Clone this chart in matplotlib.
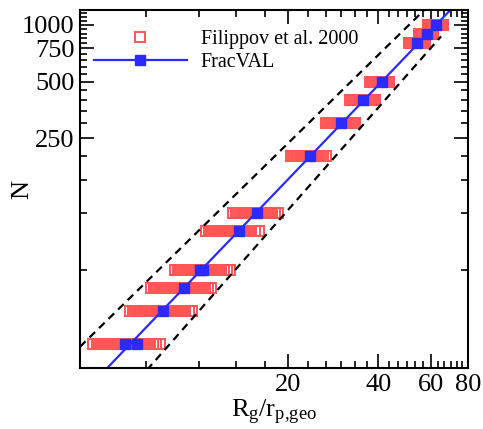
import numpy as np
import matplotlib
matplotlib.use("Agg")
import matplotlib.pyplot as plt
from matplotlib import ticker
from matplotlib.lines import Line2D

plt.rcParams['font.family'] = ['Liberation Serif', 'DejaVu Serif']
plt.rcParams['mathtext.fontset'] = 'custom'
plt.rcParams['mathtext.rm'] = 'Liberation Serif'
plt.rcParams['mathtext.it'] = 'Liberation Serif:italic'

# Filippov et al. 2000 : Rg/rp values for each N
fil_N = [20, 30, 40, 50, 80, 100, 200, 300, 400, 500, 800, 900, 1000]
fil_rg = [
    [4.43, 4.55, 4.64, 4.72, 4.79, 4.85, 4.91, 4.98, 5.04, 5.10, 5.18, 5.25,
     5.32, 5.40, 5.47, 5.55, 5.62, 5.70, 5.77, 5.85, 5.92, 6.00, 6.08, 6.15,
     6.22, 6.30, 6.39, 6.48, 6.58, 6.70, 6.80, 6.88, 7.05, 7.22, 7.41],
    [5.88, 6.02, 6.12, 6.20, 6.29, 6.38, 6.46, 6.55, 6.63, 6.72, 6.81, 6.90,
     6.99, 7.08, 7.16, 7.25, 7.35, 7.45, 7.55, 7.65, 7.75, 7.85, 7.95, 8.05,
     8.15, 8.25, 8.37, 8.50, 8.62, 8.75, 8.87, 9.00, 9.25, 9.49],
    [6.91, 7.08, 7.20, 7.30, 7.40, 7.50, 7.60, 7.70, 7.80, 7.92, 8.03, 8.15,
     8.27, 8.40, 8.52, 8.65, 8.77, 8.90, 9.02, 9.15, 9.27, 9.40, 9.52, 9.65,
     9.78, 9.90, 10.05, 10.2, 10.35, 10.5, 10.75, 10.99],
    [8.32, 8.52, 8.66, 8.80, 8.94, 9.08, 9.22, 9.36, 9.50, 9.65, 9.80, 9.95,
     10.1, 10.25, 10.4, 10.55, 10.7, 10.85, 11.0, 11.15, 11.3, 11.45, 11.6,
     11.75, 11.9, 12.2, 12.45, 12.73],
    [10.57, 10.85, 11.02, 11.2, 11.36, 11.52, 11.68, 11.84, 12.0, 12.18,
     12.36, 12.54, 12.72, 12.9, 13.08, 13.26, 13.45, 13.64, 13.83, 14.02,
     14.22, 14.42, 14.62, 14.82, 15.02, 15.45, 15.93],
    [13.03, 13.35, 13.55, 13.75, 13.95, 14.15, 14.35, 14.55, 14.76, 14.97,
     15.18, 15.4, 15.62, 15.84, 16.06, 16.28, 16.5, 16.73, 16.96, 17.19,
     17.42, 17.65, 18.0, 18.45],
    [20.4, 20.7, 21.0, 21.3, 21.6, 21.9, 22.2, 22.5, 22.8, 23.1, 23.4, 23.7,
     24.0, 24.3, 24.65, 25.0, 25.35, 25.7, 26.1, 26.7],
    [26.7, 27.1, 27.5, 27.9, 28.3, 28.7, 29.1, 29.5, 29.9, 30.3, 30.7, 31.1,
     31.5, 31.9, 32.3, 32.8, 33.4],
    [32.2, 32.65, 33.1, 33.55, 34.0, 34.45, 34.9, 35.35, 35.8, 36.25, 36.7,
     37.15, 37.6, 38.05, 38.5, 39.0],
    [37.5, 38.0, 38.5, 39.0, 39.5, 40.0, 40.5, 41.0, 41.5, 42.0, 42.5, 43.0,
     43.5],
    [50.7, 51.3, 51.9, 52.5, 53.1, 53.7, 54.3, 54.9, 55.5, 56.1, 56.7, 57.4],
    [54.8, 55.4, 56.0, 56.6, 57.2, 57.8, 58.4, 59.0, 59.6, 60.2, 60.6, 61.1],
    [58.8, 59.4, 60.0, 60.6, 61.2, 61.9, 62.6, 63.3, 64.0, 64.7, 65.3, 66.0],
]

# FracVAL aggregates
frac_N = [20, 20, 30, 40, 50, 50, 80, 100, 200, 300, 400, 500, 800, 900, 1000]
frac_rg = [5.65, 6.20, 7.57, 8.92, 10.1, 10.36, 13.65, 15.65, 23.6, 30.0,
           35.6, 41.1, 54.1, 58.2, 62.5]

# power-law fit (blue) and the two dashed bounds: N = k * (Rg/rp)^Df
fit_k, fit_df = 1.07, 1.654
upper_k, upper_df = 2.265, 1.551
lower_k, lower_df = 0.478, 1.798
fit_xrange = [4.0, 80.0]
dash_xrange = [4.0, 65.0]

red = '#ff5555'
blue = '#2b2bff'

fig = plt.figure(figsize=(4.83, 4.29), dpi=100)
ax = fig.add_axes([80/483, 1-368/429, 388/483, 358/429])

for n, xs in zip(fil_N, fil_rg):
    ax.plot(xs, [n]*len(xs), 's', ms=7.2, mfc='none', mec=red, mew=1.4,
            linestyle='none')

xf = np.geomspace(*fit_xrange, 200)
ax.plot(xf, fit_k*xf**fit_df, color=blue, lw=1.6)
ax.plot(frac_rg, frac_N, 's', ms=7.8, color=blue, linestyle='none')

xd = np.geomspace(*dash_xrange, 200)
ax.plot(xd, upper_k*xd**upper_df, color='black', lw=1.6, dashes=(3.5, 2.5))
ax.plot(xd, lower_k*xd**lower_df, color='black', lw=1.6, dashes=(3.5, 2.5))

ax.set_xscale('log')
ax.set_yscale('log')
ax.set_xlim(4, 80)
ax.set_ylim(15, 1200)

ax.xaxis.set_major_locator(ticker.FixedLocator([20, 40, 60, 80]))
ax.xaxis.set_minor_locator(ticker.FixedLocator(
    [v for v in np.arange(1, 25)*20/6 if v % 20 > 0.1 and v % 20 < 19.9]))
ax.yaxis.set_major_locator(ticker.FixedLocator([250, 500, 750, 1000]))
ax.yaxis.set_minor_locator(ticker.FixedLocator(
    [v for v in np.arange(50, 1200, 50) if v % 250 != 0]))
ax.xaxis.set_major_formatter(ticker.FormatStrFormatter('%d'))
ax.yaxis.set_major_formatter(ticker.FormatStrFormatter('%d'))
ax.xaxis.set_minor_formatter(ticker.NullFormatter())
ax.yaxis.set_minor_formatter(ticker.NullFormatter())

ax.tick_params(which='both', direction='in', top=True, right=True,
               labelsize=19, width=1.2)
ax.tick_params(which='major', length=10, pad=4)
ax.tick_params(which='minor', length=5)
for s in ax.spines.values():
    s.set_linewidth(1.5)

ax.set_xlabel(r'$\mathrm{R_g/r_{p{,}geo}}$', fontsize=19, labelpad=2)
ax.set_ylabel('N', fontsize=19)
ax.yaxis.set_label_coords(-0.12, 0.5)

handles = [
    Line2D([], [], marker='s', ms=7.2, mfc='none', mec=red, mew=1.4,
           linestyle='none'),
    Line2D([], [], marker='s', ms=7.8, color=blue, lw=1.6),
]
ax.legend(handles, ['Filippov et al. 2000', 'FracVAL'], loc='upper left',
          frameon=False, fontsize=14.5, handlelength=4.6, handletextpad=0.7,
          labelspacing=0.2, borderaxespad=0.3, bbox_to_anchor=(0.0, 0.985))

fig.savefig('out.png', dpi=100)
